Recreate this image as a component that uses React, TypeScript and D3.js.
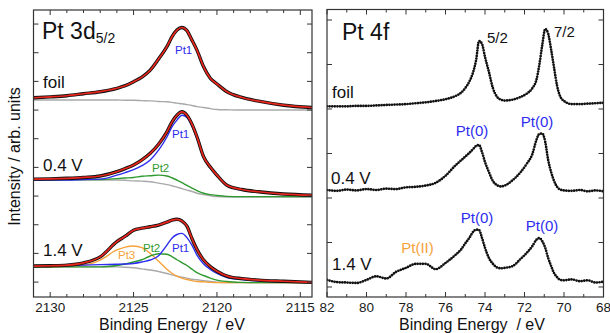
import React from 'react';
import * as d3 from 'd3';

const W = 610;
const H = 333;
const FONT = '"Liberation Sans", Arial, Helvetica, sans-serif';

// ---------- Pt 3d5/2 panel (binding energy, eV) ----------
const E3D = [2131, 2130, 2129, 2128, 2127, 2126, 2125.5, 2125, 2124.5, 2124, 2123.5, 2123, 2122.7, 2122.4, 2122.1, 2121.8, 2121.5, 2121.2, 2120.8, 2120.4, 2120, 2119.4, 2118.5, 2117.5, 2116, 2114.3];

const foilFit = [6.43, 6.46, 6.5, 6.57, 6.64, 6.76, 6.85, 6.99, 7.15, 7.39, 7.78, 8.21, 8.55, 8.79, 8.88, 8.77, 8.44, 8.09, 7.51, 7.11, 6.91, 6.64, 6.44, 6.31, 6.17, 6.09];
const foilBg = [6.35, 6.35, 6.35, 6.35, 6.35, 6.35, 6.34, 6.34, 6.33, 6.32, 6.3, 6.29, 6.27, 6.24, 6.22, 6.19, 6.16, 6.12, 6.09, 6.05, 6.02, 6.01, 6.0, 6.0, 6.0, 6.0];

const v04Fit = [3.59, 3.6, 3.62, 3.65, 3.7, 3.85, 3.96, 4.08, 4.26, 4.49, 4.81, 5.24, 5.58, 5.82, 5.94, 5.82, 5.51, 5.07, 4.37, 4.01, 3.73, 3.38, 3.23, 3.15, 3.07, 3.03];
const v04Pt1 = [3.56, 3.56, 3.56, 3.58, 3.59, 3.73, 3.82, 3.92, 4.06, 4.26, 4.6, 5.06, 5.41, 5.65, 5.82, 5.74, 5.44, 5.02, 4.34, 3.98, 3.7, 3.37, 3.21, 3.14, 3.06, 3.02];
const v04Pt2 = [3.56, 3.56, 3.57, 3.58, 3.58, 3.61, 3.63, 3.65, 3.69, 3.71, 3.73, 3.7, 3.64, 3.56, 3.47, 3.37, 3.28, 3.19, 3.1, 3.05, 3.02, 2.99, 2.98, 2.98, 2.98, 2.98];
const v04Bg = [3.56, 3.56, 3.56, 3.56, 3.56, 3.56, 3.55, 3.53, 3.52, 3.5, 3.45, 3.4, 3.36, 3.31, 3.26, 3.21, 3.16, 3.1, 3.05, 3.01, 2.98, 2.97, 2.97, 2.97, 2.97, 2.97];

const v14Fit = [0.56, 0.57, 0.59, 0.67, 0.88, 1.41, 1.6, 1.81, 1.88, 1.93, 1.99, 2.09, 2.16, 2.19, 2.13, 1.95, 1.52, 1.14, 0.77, 0.54, 0.38, 0.21, 0.12, 0.07, 0.03, -0.01];
const v14Pt1 = [0.56, 0.56, 0.58, 0.59, 0.61, 0.62, 0.63, 0.65, 0.7, 0.77, 0.92, 1.29, 1.53, 1.66, 1.7, 1.55, 1.29, 0.94, 0.63, 0.44, 0.3, 0.16, 0.09, 0.04, 0.01, -0.02];
const v14Pt2 = [0.53, 0.53, 0.53, 0.53, 0.53, 0.58, 0.63, 0.7, 0.78, 0.91, 0.99, 0.97, 0.89, 0.78, 0.68, 0.58, 0.45, 0.33, 0.23, 0.14, 0.07, 0.02, -0.01, -0.02, -0.02, -0.02];
const v14Pt3 = [0.53, 0.53, 0.56, 0.59, 0.77, 1.12, 1.22, 1.26, 1.2, 1.0, 0.73, 0.45, 0.31, 0.21, 0.14, 0.09, 0.05, 0.02, 0.01, -0.01, -0.02, -0.02, -0.02, -0.02, -0.02, -0.02];
const v14Bg = [0.53, 0.53, 0.53, 0.53, 0.53, 0.53, 0.52, 0.5, 0.46, 0.42, 0.37, 0.3, 0.25, 0.21, 0.17, 0.14, 0.1, 0.08, 0.05, 0.02, 0.0, -0.02, -0.02, -0.02, -0.02, -0.02];

// ---------- Pt 4f panel ----------
const E4F = [82, 81.5, 81, 80.5, 80, 79.5, 79, 78.5, 78, 77.5, 77, 76.5, 76, 75.5, 75.2, 75, 74.8, 74.6, 74.45, 74.3, 74.15, 74, 73.8, 73.6, 73.4, 73.2, 73, 72.6, 72.2, 71.9, 71.6, 71.4, 71.25, 71.1, 70.95, 70.8, 70.65, 70.5, 70.35, 70.2, 70, 69.6, 69.2, 68.8, 68.4, 68];

const foil4f = [4.06, 4.06, 4.06, 4.07, 4.07, 4.08, 4.09, 4.1, 4.11, 4.13, 4.15, 4.18, 4.22, 4.29, 4.37, 4.47, 4.61, 4.83, 5.1, 5.53, 5.46, 5.17, 4.83, 4.47, 4.28, 4.21, 4.19, 4.21, 4.27, 4.34, 4.47, 4.65, 4.99, 5.44, 5.8, 5.69, 5.33, 4.92, 4.52, 4.29, 4.18, 4.11, 4.11, 4.12, 4.13, 4.14];
const v04_4f = [2.18, 2.16, 2.19, 2.17, 2.2, 2.18, 2.21, 2.2, 2.24, 2.25, 2.28, 2.34, 2.5, 2.73, 2.85, 2.93, 3.01, 3.1, 3.17, 3.19, 3.03, 2.81, 2.58, 2.38, 2.29, 2.26, 2.28, 2.4, 2.58, 2.76, 2.99, 3.3, 3.44, 3.45, 3.26, 2.85, 2.58, 2.38, 2.25, 2.19, 2.17, 2.16, 2.18, 2.15, 2.17, 2.15];
const v14_4f = [0.16, 0.11, 0.1, 0.09, 0.16, 0.24, 0.19, 0.34, 0.43, 0.52, 0.52, 0.4, 0.54, 0.72, 0.85, 0.98, 1.1, 1.24, 1.29, 1.28, 1.1, 0.88, 0.65, 0.52, 0.44, 0.42, 0.43, 0.47, 0.63, 0.76, 0.92, 1.06, 1.1, 1.03, 0.88, 0.65, 0.47, 0.31, 0.22, 0.16, 0.15, 0.17, 0.13, 0.15, 0.1, 0.12];

// tick labels
const ticks3dMajor = [2130, 2125, 2120, 2115];
const ticks4fMajor = [82, 80, 78, 76, 74, 72, 70, 68];

const COL = {
  fit: '#e8251c',
  data: '#111111',
  bg: '#a9a9a9',
  pt1: '#2d2df0',
  pt2: '#2f9a2f',
  pt3: '#f6a23a',
  axis: '#333333',
};

const L = { x0: 33.5, x1: 312, y0: 10, y1: 297 };
const R = { x0: 327, x1: 603.5, y0: 9.5, y1: 297 };

const x3d = d3.scaleLinear().domain([2131, 2114.3]).range([L.x0, L.x1]);
const y3d = d3.scaleLinear().domain([-0.52, 9.49]).range([L.y1, L.y0]);
const x4f = d3.scaleLinear().domain([82, 68]).range([R.x0, R.x1]);
const y4f = d3.scaleLinear().domain([-0.225, 6.236]).range([R.y1, R.y0]);

function mkPath(xs: number[], ys: number[], xs_: any, ys_: any, curve: any = d3.curveMonotoneX) {
  const pts: [number, number][] = xs.map((e, i) => [xs_(e), ys_(ys[i])]);
  return d3.line().curve(curve)(pts) || '';
}

function Frame({ P, xScale, yScale, major, minor, yTicks, labels }: any) {
  const els: any[] = [];
  major.forEach((t: number, i: number) => {
    const x = xScale(t);
    els.push(<line key={'mb' + i} x1={x} x2={x} y1={P.y1} y2={P.y1 - 5} stroke={COL.axis} strokeWidth={1} />);
    els.push(<line key={'mt' + i} x1={x} x2={x} y1={P.y0} y2={P.y0 + 5} stroke={COL.axis} strokeWidth={1} />);
  });
  minor.forEach((t: number, i: number) => {
    const x = xScale(t);
    els.push(<line key={'nb' + i} x1={x} x2={x} y1={P.y1} y2={P.y1 - 3} stroke={COL.axis} strokeWidth={1} />);
    els.push(<line key={'nt' + i} x1={x} x2={x} y1={P.y0} y2={P.y0 + 3} stroke={COL.axis} strokeWidth={1} />);
  });
  yTicks.forEach((t: number, i: number) => {
    const y = yScale(t);
    els.push(<line key={'yl' + i} x1={P.x0} x2={P.x0 + 5} y1={y} y2={y} stroke={COL.axis} strokeWidth={1} />);
    els.push(<line key={'yr' + i} x1={P.x1} x2={P.x1 - 5} y1={y} y2={y} stroke={COL.axis} strokeWidth={1} />);
  });
  labels.forEach((t: number, i: number) => {
    els.push(
      <text key={'lb' + i} x={xScale(t)} y={311.5} textAnchor="middle" fontSize={13.5} fill="#1a1a1a">
        {t}
      </text>
    );
  });
  return (
    <g>
      <rect x={P.x0} y={P.y0} width={P.x1 - P.x0} height={P.y1 - P.y0} fill="none" stroke={COL.axis} strokeWidth={1.2} />
      {els}
    </g>
  );
}

export default function App() {
  const minor3d = d3.range(2115, 2132).filter((v) => !ticks3dMajor.includes(v));
  const minor4f = d3.range(69, 82, 2);

  const c = (ys: number[]) => mkPath(E3D, ys, x3d, y3d);
  const r = (ys: number[]) => mkPath(E4F, ys, x4f, y4f);

  const leftCurves = [
    { d: c(foilBg), col: COL.bg, w: 1.4 },
    { d: c(v04Bg), col: COL.bg, w: 1.4 },
    { d: c(v14Bg), col: COL.bg, w: 1.4 },
    { d: c(v14Pt3), col: COL.pt3, w: 1.4 },
    { d: c(v04Pt2), col: COL.pt2, w: 1.4 },
    { d: c(v14Pt2), col: COL.pt2, w: 1.4 },
    { d: c(v04Pt1), col: COL.pt1, w: 1.4 },
    { d: c(v14Pt1), col: COL.pt1, w: 1.4 },
  ];
  const dataSets = [foilFit, v04Fit, v14Fit];

  return (
    <svg
      width={W}
      height={H}
      viewBox={`0 0 ${W} ${H}`}
      style={{ position: 'absolute', left: 0, top: 0, fontFamily: FONT, background: '#fff' }}
    >
      <defs>
        <clipPath id="clipL">
          <rect x={L.x0} y={L.y0} width={L.x1 - L.x0} height={L.y1 - L.y0} />
        </clipPath>
        <clipPath id="clipR">
          <rect x={R.x0} y={R.y0} width={R.x1 - R.x0} height={R.y1 - R.y0} />
        </clipPath>
      </defs>
      <rect x={0} y={0} width={W} height={H} fill="#fff" />

      {/* Left panel curves */}
      <g clipPath="url(#clipL)" fill="none">
        {leftCurves.map((cv, i) => (
          <path key={'lc' + i} d={cv.d} stroke={cv.col} strokeWidth={cv.w} />
        ))}
        {dataSets.map((ys, i) => (
          <path key={'ld' + i} d={c(ys)} stroke={COL.data} strokeWidth={3.4} />
        ))}
        {dataSets.map((ys, i) => (
          <path key={'lf' + i} d={c(ys)} stroke={COL.fit} strokeWidth={1.7} />
        ))}
      </g>

      {/* Right panel curves */}
      <g clipPath="url(#clipR)" fill="none">
        {[foil4f, v04_4f, v14_4f].map((ys, i) => (
          <path
            key={'rd' + i}
            d={r(ys)}
            stroke={COL.data}
            strokeWidth={2.7}
            strokeLinecap="round"
            strokeDasharray="0 2.6"
          />
        ))}
      </g>

      <Frame P={L} xScale={x3d} yScale={y3d} major={ticks3dMajor} minor={minor3d} yTicks={d3.range(0, 10)} labels={ticks3dMajor} />
      <Frame P={R} xScale={x4f} yScale={y4f} major={ticks4fMajor} minor={minor4f} yTicks={d3.range(0, 7)} labels={ticks4fMajor} />

      {/* Titles */}
      <text x={42} y={38.5} fontSize={23} fill="#111">
        Pt 3d
        <tspan fontSize={14} dy={4}>5/2</tspan>
      </text>
      <text x={342} y={39.5} fontSize={23} fill="#111">Pt 4f</text>

      {/* Condition labels */}
      <g fontSize={17} fill="#111">
        <text x={43} y={88}>foil</text>
        <text x={43} y={171}>0.4 V</text>
        <text x={43} y={256}>1.4 V</text>
        <text x={332} y={97.5}>foil</text>
        <text x={331} y={183.5}>0.4 V</text>
        <text x={332} y={269.5}>1.4 V</text>
      </g>

      {/* Left component labels */}
      <g fontSize={11.5}>
        <text x={175} y={53.5} fill={COL.pt1}>Pt1</text>
        <text x={172} y={138} fill={COL.pt1}>Pt1</text>
        <text x={152} y={172.3} fill={COL.pt2}>Pt2</text>
        <text x={118} y={259} fill={COL.pt3}>Pt3</text>
        <text x={143} y={251.7} fill={COL.pt2}>Pt2</text>
        <text x={172} y={252.3} fill={COL.pt1}>Pt1</text>
      </g>

      {/* Right annotations */}
      <g fontSize={15}>
        <text x={487} y={43} fill="#111">5/2</text>
        <text x={554} y={37} fill="#111">7/2</text>
        <text x={472} y={136} textAnchor="middle" fill={COL.pt1}>Pt(0)</text>
        <text x={537} y={126.5} textAnchor="middle" fill={COL.pt1}>Pt(0)</text>
        <text x={477} y={223.3} textAnchor="middle" fill={COL.pt1}>Pt(0)</text>
        <text x={542} y={231} textAnchor="middle" fill={COL.pt1}>Pt(0)</text>
        <text x={417.5} y={253} textAnchor="middle" fill={COL.pt3}>Pt(II)</text>
      </g>

      {/* Axis titles */}
      <text x={172} y={330} textAnchor="middle" fontSize={16} fill="#111" style={{ whiteSpace: 'pre' }}>
        {'Binding Energy  / eV'}
      </text>
      <text x={472} y={330} textAnchor="middle" fontSize={16} fill="#111" style={{ whiteSpace: 'pre' }}>
        {'Binding Energy  / eV'}
      </text>
      <text
        transform="translate(20,156.5) rotate(-90)"
        textAnchor="middle"
        fontSize={16}
        fill="#111"
      >
        Intensity / arb. units
      </text>
    </svg>
  );
}
